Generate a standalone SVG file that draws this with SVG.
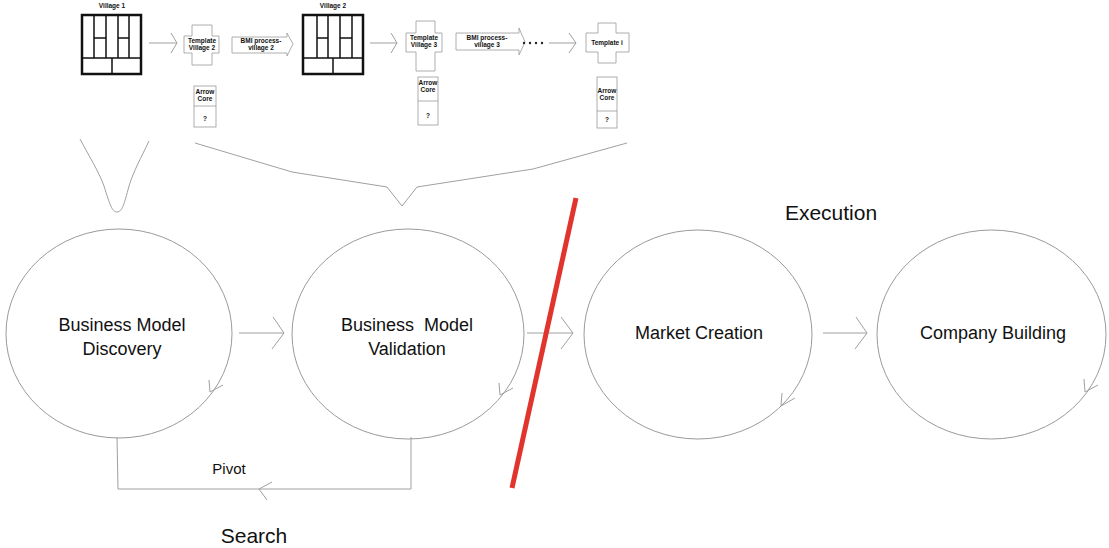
<svg xmlns="http://www.w3.org/2000/svg" width="1109" height="548" viewBox="0 0 1109 548">
<style>
.bg{fill:#fff}
.ring{fill:none;stroke:#9a9a9a;stroke-width:1}
.ln{fill:none;stroke:#a0a0a0;stroke-width:1}
.big{font-family:"Liberation Sans",Arial,sans-serif;font-size:18px;fill:#111;text-anchor:middle}
.huge{font-family:"Liberation Sans",Arial,sans-serif;font-size:21px;fill:#111;text-anchor:middle}
.sm{font-family:"Liberation Sans",Arial,sans-serif;font-size:6.5px;font-weight:bold;fill:#111;text-anchor:middle}
.vout{fill:#fff;stroke:#111;stroke-width:2.5}
.vin{fill:none;stroke:#111;stroke-width:1.5}
.shape{fill:#fff;stroke:#9a9a9a;stroke-width:0.8}
</style>
<rect class="bg" x="0" y="0" width="1109" height="548"/>

<g id="village1">
  <text class="sm" x="112" y="8">Village 1</text>
  <rect class="vout" x="82" y="15" width="59" height="59"/>
  <path class="vin" d="M94,15V58M106,15V58M118,15V58M129,15V58M82,58H141M94,38H106M118,38H129M112,58V74"/>
</g>
<g id="template2">
  <path class="shape" d="M192,25H212V36H219V53H212V65H192V53H184V36H192Z"/>
  <text class="sm" x="202" y="43">Template</text>
  <text class="sm" x="202" y="50">Village 2</text>
</g>
<g id="bmi2">
  <path class="shape" d="M232,37H287V33L293,44L287,56V53H232Z"/>
  <text class="sm" x="261" y="43">BMI process-</text>
  <text class="sm" x="261" y="50">village 2</text>
</g>
<g id="arrowcore2">
  <rect class="shape" x="194" y="86" width="22" height="41"/>
  <path class="shape" d="M194,106H216"/>
  <text class="sm" x="205" y="94">Arrow</text>
  <text class="sm" x="205" y="101">Core</text>
  <text class="sm" x="205" y="121">?</text>
</g>
<g id="village2">
  <text class="sm" x="333" y="8">Village 2</text>
  <rect class="vout" x="303" y="15" width="60" height="59"/>
  <path class="vin" d="M317,15V58M328,15V58M340,15V58M352,15V58M303,58H363M317,38H328M340,38H352M333,58V74"/>
</g>
<g id="template3">
  <path class="shape" d="M416,21H435V33H442V52H435V71H416V52H406V33H416Z"/>
  <text class="sm" x="424" y="40">Template</text>
  <text class="sm" x="424" y="47">Village 3</text>
</g>
<g id="bmi3">
  <path class="shape" d="M456,33H519V28L525,42L519,55V50H456Z"/>
  <text class="sm" x="487" y="40">BMI process-</text>
  <text class="sm" x="487" y="47">village 3</text>
</g>
<g id="arrowcore3">
  <rect class="shape" x="418" y="77" width="20" height="48"/>
  <path class="shape" d="M418,101H438"/>
  <text class="sm" x="428" y="85">Arrow</text>
  <text class="sm" x="428" y="92">Core</text>
  <text class="sm" x="428" y="118">?</text>
</g>
<g id="dots" fill="#222">
  <circle cx="524" cy="43" r="1.2"/><circle cx="530" cy="43" r="1.2"/><circle cx="536" cy="43" r="1.2"/><circle cx="542" cy="43" r="1.2"/>
</g>
<g id="templatei">
  <path class="shape" d="M598,23H616V33H629V52H616V63H598V52H586V33H598Z"/>
  <text class="sm" x="607" y="45">Template i</text>
</g>
<g id="arrowcorei">
  <rect class="shape" x="597" y="77" width="20" height="51"/>
  <path class="shape" d="M597,111H617"/>
  <text class="sm" x="607" y="93">Arrow</text>
  <text class="sm" x="607" y="100">Core</text>
  <text class="sm" x="607" y="122">?</text>
</g>

<g id="discovery">
  <ellipse class="ring" cx="119" cy="333.5" rx="113" ry="104.5"/>
  <path class="ln" d="M209,380L210,392L223,385"/>
  <text class="big" x="122" y="331">Business Model</text>
  <text class="big" x="122" y="355">Discovery</text>
</g>
<g id="validation">
  <ellipse class="ring" cx="408" cy="334" rx="116" ry="105"/>
  <path class="ln" d="M499,383L500,395L513,388"/>
  <text class="big" x="407" y="331" xml:space="preserve" style="white-space:pre">Business  Model</text>
  <text class="big" x="407" y="355">Validation</text>
</g>
<g id="market">
  <ellipse class="ring" cx="698" cy="334.5" rx="114" ry="104.5"/>
  <path class="ln" d="M782,393L781,406L795,398"/>
  <text class="big" x="699" y="339">Market Creation</text>
</g>
<g id="company">
  <ellipse class="ring" cx="991.5" cy="334.5" rx="114.5" ry="104.5"/>
  <path class="ln" d="M1084,379L1085,392L1098,385"/>
  <text class="big" x="993" y="339">Company Building</text>
</g>

<g id="labels">
  <text class="huge" x="831" y="220">Execution</text>
  <text class="huge" x="254" y="543">Search</text>
  <text class="big" style="font-size:15px" x="229" y="474">Pivot</text>
</g>

<g id="connectors">
  <path class="ln" d="M149,43H177M171,33L177,43L171,53"/>
  <path class="ln" d="M370,43H397M391,33L397,43L391,53"/>
  <path class="ln" d="M549,43H576M569,33L576,43L569,53"/>
  <path class="ln" d="M80,139C90,158 98,170 104,186C110,205 112,212 117,212C122,212 124,205 129,186C134,170 141,158 149,141"/>
  <path class="ln" d="M195,143L292,172L387,187L402,206L417,187L533,169L627,143"/>
  <path class="ln" d="M239,333H284M273,317L284,333L272,349"/>
  <path class="ln" d="M527,333H573M561,317L573,333L561,349"/>
  <path class="ln" d="M823,333H867M856,317L867,333L855,349"/>
  <path class="ln" d="M117,437L118,489H411V437M272,482L259,489L267,500"/>
  <path d="M576,198L512,488" stroke="#e0342c" stroke-width="5" fill="none"/>
</g>
</svg>
